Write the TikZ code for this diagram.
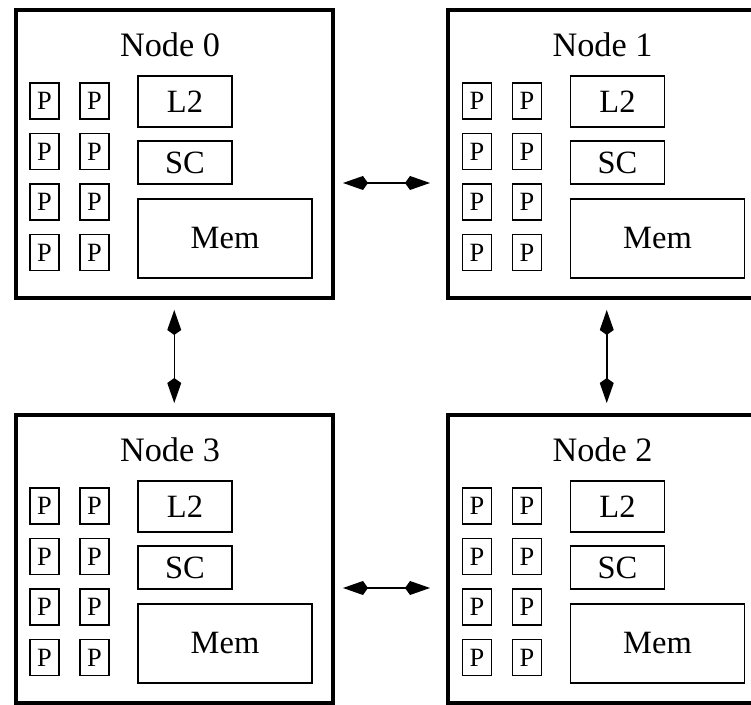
\documentclass[tikz,border=0pt]{standalone}
\usepackage{fontspec}
\setmainfont{Liberation Serif}
\usetikzlibrary{arrows.meta}

\begin{document}
\begin{tikzpicture}[
       x=0.02cm,
       y=-0.02cm,
       numa/.style={
         draw,
         line width=2.3pt,
         inner sep=0pt,
         minimum width=6.35cm,
         minimum height=5.78cm
       },
       titel/.style={
         font=\fontsize{19.5}{21}\selectfont
       },
       proc/.style={
         draw,
         line width=0.6pt,
         inner sep=0pt,
         minimum width=0.58cm,
         minimum height=0.72cm,
         font=\fontsize{15}{17}\selectfont
       },
       cache/.style={
         draw,
         line width=0.6pt,
         inner sep=0pt,
         minimum width=1.88cm,
         minimum height=1.02cm,
         font=\fontsize{18.5}{20}\selectfont
       },
       mem/.style={
         draw,
         line width=0.6pt,
         inner sep=0pt,
         minimum width=3.48cm,
         minimum height=1.58cm,
         font=\fontsize{18.5}{20}\selectfont
       },
       lien/.style={
         line width=0.85pt,
         >={Kite[length=0.5cm,width=0.28cm,inset=0.1cm]},
         <->
       }
     ]

       \useasboundingbox (0,0) rectangle (751,705);

       \begin{scope}[shift={(15.5,9.5)}]
         \node (n0) at (158.75,144.5) [numa]{};
         \node (t0) at (154.5,35) [titel]{Node 0};
         \node (p01) at (29,91.5) [proc]{P};
         \node (p02) at (79,91.5) [proc]{P};
         \node (p03) at (29,142) [proc]{P};
         \node (p04) at (79,142) [proc]{P};
         \node (p05) at (29,192.5) [proc]{P};
         \node (p06) at (79,192.5) [proc]{P};
         \node (p07) at (29,243) [proc]{P};
         \node (p08) at (79,243) [proc]{P};
         \node (l0) at (169.5,92) [cache]{L2};
         \node (s0) at (169.5,153) [cache,minimum height=0.86cm]{SC};
         \node (m0) at (209.5,229) [mem]{Mem};
       \end{scope}

       \begin{scope}[shift={(448,9.5)}]
         \node (n1) at (158.75,144.5) [numa]{};
         \node (t1) at (154.5,35) [titel]{Node 1};
         \node (p11) at (29,91.5) [proc]{P};
         \node (p12) at (79,91.5) [proc]{P};
         \node (p13) at (29,142) [proc]{P};
         \node (p14) at (79,142) [proc]{P};
         \node (p15) at (29,192.5) [proc]{P};
         \node (p16) at (79,192.5) [proc]{P};
         \node (p17) at (29,243) [proc]{P};
         \node (p18) at (79,243) [proc]{P};
         \node (l1) at (169.5,92) [cache]{L2};
         \node (s1) at (169.5,153) [cache,minimum height=0.86cm]{SC};
         \node (m1) at (209.5,229) [mem]{Mem};
       \end{scope}

       \begin{scope}[shift={(448,414.5)}]
         \node (n2) at (158.75,144.5) [numa]{};
         \node (t2) at (154.5,35) [titel]{Node 2};
         \node (p21) at (29,91.5) [proc]{P};
         \node (p22) at (79,91.5) [proc]{P};
         \node (p23) at (29,142) [proc]{P};
         \node (p24) at (79,142) [proc]{P};
         \node (p25) at (29,192.5) [proc]{P};
         \node (p26) at (79,192.5) [proc]{P};
         \node (p27) at (29,243) [proc]{P};
         \node (p28) at (79,243) [proc]{P};
         \node (l2) at (169.5,92) [cache]{L2};
         \node (s2) at (169.5,153) [cache,minimum height=0.86cm]{SC};
         \node (m2) at (209.5,229) [mem]{Mem};
       \end{scope}

       \begin{scope}[shift={(15.5,414.5)}]
         \node (n3) at (158.75,144.5) [numa]{};
         \node (t3) at (154.5,35) [titel]{Node 3};
         \node (p31) at (29,91.5) [proc]{P};
         \node (p32) at (79,91.5) [proc]{P};
         \node (p33) at (29,142) [proc]{P};
         \node (p34) at (79,142) [proc]{P};
         \node (p35) at (29,192.5) [proc]{P};
         \node (p36) at (79,192.5) [proc]{P};
         \node (p37) at (29,243) [proc]{P};
         \node (p38) at (79,243) [proc]{P};
         \node (l3) at (169.5,92) [cache]{L2};
         \node (s3) at (169.5,153) [cache,minimum height=0.86cm]{SC};
         \node (m3) at (209.5,229) [mem]{Mem};
       \end{scope}

       \draw[lien,shorten <=0.16cm,shorten >=0.32cm] ([yshift=-0.58cm]n0.east) -- ([yshift=-0.58cm]n1.west);
       \draw[lien,shorten <=0.16cm,shorten >=0.32cm] ([yshift=-0.58cm]n3.east) -- ([yshift=-0.58cm]n2.west);
       \draw[lien,shorten <=0.19cm,shorten >=0.19cm] (n0.south) -- (n3.north);
       \draw[lien,shorten <=0.19cm,shorten >=0.19cm] (n1.south) -- (n2.north);

\end{tikzpicture}
\end{document}
